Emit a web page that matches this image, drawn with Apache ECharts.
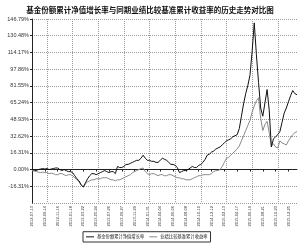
<!DOCTYPE html>
<html>
<head>
<meta charset="utf-8">
<script src="https://cdn.jsdelivr.net/npm/echarts@6/dist/echarts.min.js"></script>
<style>
  html, body { margin: 0; padding: 0; background: #fff; }
  #chart { width: 300px; height: 243px; }
</style>
</head>
<body>
<div id="chart"></div>
<script>
var titleText = '基金份额累计净值增长率与同期业绩比较基准累计收益率的历史走势对比图';
var seriesNames = ['基金份额累计净值增长率', '业绩比较基准累计收益率'];

// one label every 6 points
var tickLabels = [
    '2012-07-13', '2012-09-14', '2012-11-16', '2013-01-18', '2013-03-22',
    '2013-05-24', '2013-07-26', '2013-09-27', '2013-11-29', '2014-01-31',
    '2014-04-04', '2014-06-06', '2014-08-08', '2014-10-10', '2014-12-12',
    '2015-02-13', '2015-04-17', '2015-06-19', '2015-08-21', '2015-10-23',
    '2015-12-25'
];

var fundValues = [
    0, -0.5, -1, 0, 0.5, 1, 0.5, 1, 0, 0.5,
    1, 1.5, 1.5, 0, -1, 0, -1, -2, -2, -3,
    -6, -9, -11, -15, -17, -13, -9, -6, -4, -4,
    -5, -4, -3, -2, -1, -2, -3, -2, -2, -4,
    3, 2, 2, 3, 5, 5, 6, 7, 8, 9,
    9, 11, 14, 11, 9, 9, 8, 8, 7, 7,
    9, 11, 10, 9, 7, 5, 5, 4, 2, -3,
    -2, -1, -1, 0, 1.5, 3, 2, 2, 4, 5,
    7, 10, 14, 15, 17, 18, 20, 21, 22, 24,
    26, 28, 29, 30, 32, 33, 34, 40, 52, 64,
    74, 82, 92, 115, 143, 112, 85, 60, 52, 65,
    78, 58, 22, 30, 32, 34, 37, 46, 55, 60,
    66, 72, 77, 74, 73
];

var benchValues = [
    -1, -1.5, -2, -2.5, -3, -2.5, -3, -3, -4, -3.5,
    -4, -5, -5, -4, -4, -5, -6, -5, -5, -6,
    -8, -10, -12, -15, -17, -14, -12, -11, -10, -10,
    -9, -9, -9, -8, -8, -8, -9, -10, -10, -11,
    -10, -10, -9, -8, -7, -6, -5, -3, -2, -1,
    0, 1, 1.5, -2, -4, -5, -4, -4, -5, -6,
    -5, -5, -6, -6, -5, -5, -6, -7, -8, -8,
    -9, -9, -10, -10, -10, -9, -8, -7, -6, -6,
    -5, -5, -5, -5, -4, -2, -1, -1, 0, 3,
    7, 11, 12, 14, 16, 18, 20, 23, 28, 33,
    38, 43, 48, 56, 62, 67, 70, 50, 38, 44,
    47, 36, 23, 25, 22, 21, 28, 26, 25, 24,
    28, 31, 34, 36, 37
];

var chart = echarts.init(document.getElementById('chart'));

var categories = fundValues.map(function(v, i) { return i; });

var option = {
    animation: false,
    title: {
        text: titleText,
        left: 'center',
        top: 1,
        textStyle: {
            fontSize: 7.5,
            fontWeight: 'bold',
            color: '#111',
            fontFamily: 'Noto Sans CJK SC'
        }
    },
    legend: {
        bottom: 1,
        left: 83,
        data: seriesNames,
        icon: 'rect',
        itemWidth: 8,
        itemHeight: 1,
        itemGap: 5,
        padding: [3, 3, 3, 3],
        borderColor: '#333',
        borderWidth: 1,
        textStyle: {
            fontSize: 4.3,
            color: '#222',
            fontFamily: 'Noto Sans CJK SC',
            padding: [0, 0, 0, -2]
        }
    },
    grid: {
        left: 32,
        right: 3,
        top: 19,
        bottom: 40
    },
    xAxis: {
        type: 'category',
        boundaryGap: false,
        data: categories,
        axisLine: { lineStyle: { color: '#222', width: 1 } },
        axisTick: {
            length: 2,
            interval: function(i) { return i % 6 === 0; },
            lineStyle: { color: '#222' }
        },
        axisLabel: {
            interval: function(i) { return i % 6 === 0; },
            rotate: 90,
            fontSize: 4,
            color: '#333',
            margin: 3,
            formatter: function(v, i) {
                return tickLabels[Math.round(i / 6)] || '';
            }
        },
        splitLine: {
            show: true,
            interval: function(i) { return i % 12 === 7; },
            lineStyle: { color: '#999', type: 'dotted', width: 1 }
        }
    },
    yAxis: {
        type: 'value',
        min: -32.62,
        max: 146.79,
        interval: 16.31,
        axisLine: { show: true, lineStyle: { color: '#222', width: 1 } },
        axisTick: { show: true, length: 2, lineStyle: { color: '#222' } },
        axisLabel: {
            showMinLabel: false,
            fontSize: 5.5,
            color: '#333',
            margin: 3,
            formatter: function(v) { return v.toFixed(2) + '%'; }
        },
        splitLine: {
            lineStyle: { color: '#999', type: 'dotted', width: 1 }
        }
    },
    series: [
        {
            name: seriesNames[0],
            type: 'line',
            symbol: 'none',
            data: fundValues,
            lineStyle: { color: '#111', width: 1 },
            itemStyle: { color: '#111' },
            z: 3
        },
        {
            name: seriesNames[1],
            type: 'line',
            symbol: 'none',
            data: benchValues,
            lineStyle: { color: '#888', width: 1 },
            itemStyle: { color: '#888' },
            z: 2
        }
    ]
};

chart.setOption(option);
</script>
</body>
</html>
